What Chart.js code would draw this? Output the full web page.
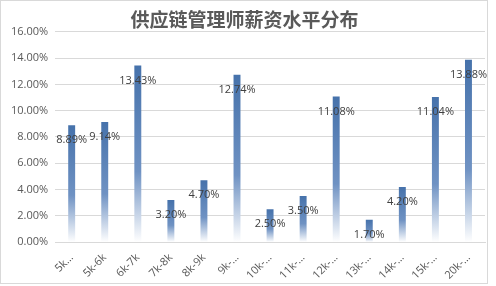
<!DOCTYPE html>
<html lang="zh">
<head>
<meta charset="UTF-8">
<title>供应链管理师薪资水平分布</title>
<script src="https://cdn.jsdelivr.net/npm/chart.js"></script>
<style>
    body { margin: 0; background: #ffffff; }
    /* рамка вокруг диаграммы */
    .chart-box {
        position: absolute; left: 0; top: 0;
        width: 486px; height: 282px;
        border: 1px solid #d9d9d9;
        background: #ffffff;
    }
</style>
</head>
<body>
<div class="chart-box">
    <canvas id="salaryChart"></canvas>
</div>
<script>
    // данные
    const categories = ['5k…', '5k-6k', '6k-7k', '7k-8k', '8k-9k', '9k-…', '10k-…', '11k-…', '12k-…', '13k-…', '14k-…', '15k-…', '20k-…'];
    const shares = [8.89, 9.14, 13.43, 3.20, 4.70, 12.74, 2.50, 3.50, 11.08, 1.70, 4.20, 11.04, 13.88];
    const yTicks = [0, 2, 4, 6, 8, 10, 12, 14, 16];

    const latin = "'Open Sans', 'Noto Sans CJK SC', sans-serif";

    // градиент для каждого столбца: сверху синий, внизу белый
    function barGradient(ctx) {
        const chart = ctx.chart;
        const y = chart.scales.y;
        if (!y || ctx.parsed === undefined) return '#4f7ab3';
        const top = y.getPixelForValue(ctx.parsed.y);
        const bottom = y.getPixelForValue(0);
        if (!isFinite(top) || !isFinite(bottom) || bottom - top < 1) return '#4f7ab3';
        const g = chart.ctx.createLinearGradient(0, top, 0, bottom);
        g.addColorStop(0, '#4672ab');
        g.addColorStop(0.6, '#6f92c3');
        g.addColorStop(1, '#ffffff');
        return g;
    }

    // подписи значений внутри столбцов
    const valueLabels = {
        id: 'valueLabels',
        afterDatasetsDraw(chart) {
            const c = chart.ctx;
            const meta = chart.getDatasetMeta(0);
            c.save();
            c.font = "11px " + latin;
            c.fillStyle = '#404040';
            c.textAlign = 'center';
            c.textBaseline = 'middle';
            meta.data.forEach((bar, i) => {
                c.fillText(shares[i].toFixed(2) + '%', bar.x, bar.y + 15);
            });
            c.restore();
        }
    };

    new Chart(document.getElementById('salaryChart'), {
        type: 'bar',
        data: {
            labels: categories,
            datasets: [{
                data: shares,
                backgroundColor: barGradient,
                borderWidth: 0,
                barPercentage: 0.21,
                categoryPercentage: 1
            }]
        },
        options: {
            responsive: true,
            maintainAspectRatio: false,
            animation: false,
            layout: { padding: { left: 3, right: 2, top: 0, bottom: 0 } },
            plugins: {
                legend: { display: false },
                tooltip: { enabled: false },
                title: {
                    display: true,
                    text: '供应链管理师薪资水平分布',
                    color: '#595959',
                    font: { family: "'Noto Sans CJK SC', sans-serif", size: 19, weight: 'bold', lineHeight: 1.2 },
                    padding: { top: 7, bottom: 1 }
                }
            },
            scales: {
                x: {
                    grid: { display: false },
                    border: { color: '#d9d9d9' },
                    ticks: {
                        color: '#595959',
                        font: { family: latin, size: 11 },
                        minRotation: 45,
                        maxRotation: 45,
                        padding: 1
                    }
                },
                y: {
                    min: 0,
                    max: 16,
                    afterBuildTicks(axis) {
                        axis.ticks = yTicks.map(v => ({ value: v }));
                    },
                    grid: { color: '#d9d9d9', drawTicks: false },
                    border: { display: false },
                    ticks: {
                        color: '#595959',
                        font: { family: latin, size: 11 },
                        padding: 7,
                        callback: v => v.toFixed(2) + '%'
                    }
                }
            }
        },
        plugins: [valueLabels]
    });
</script>
</body>
</html>
